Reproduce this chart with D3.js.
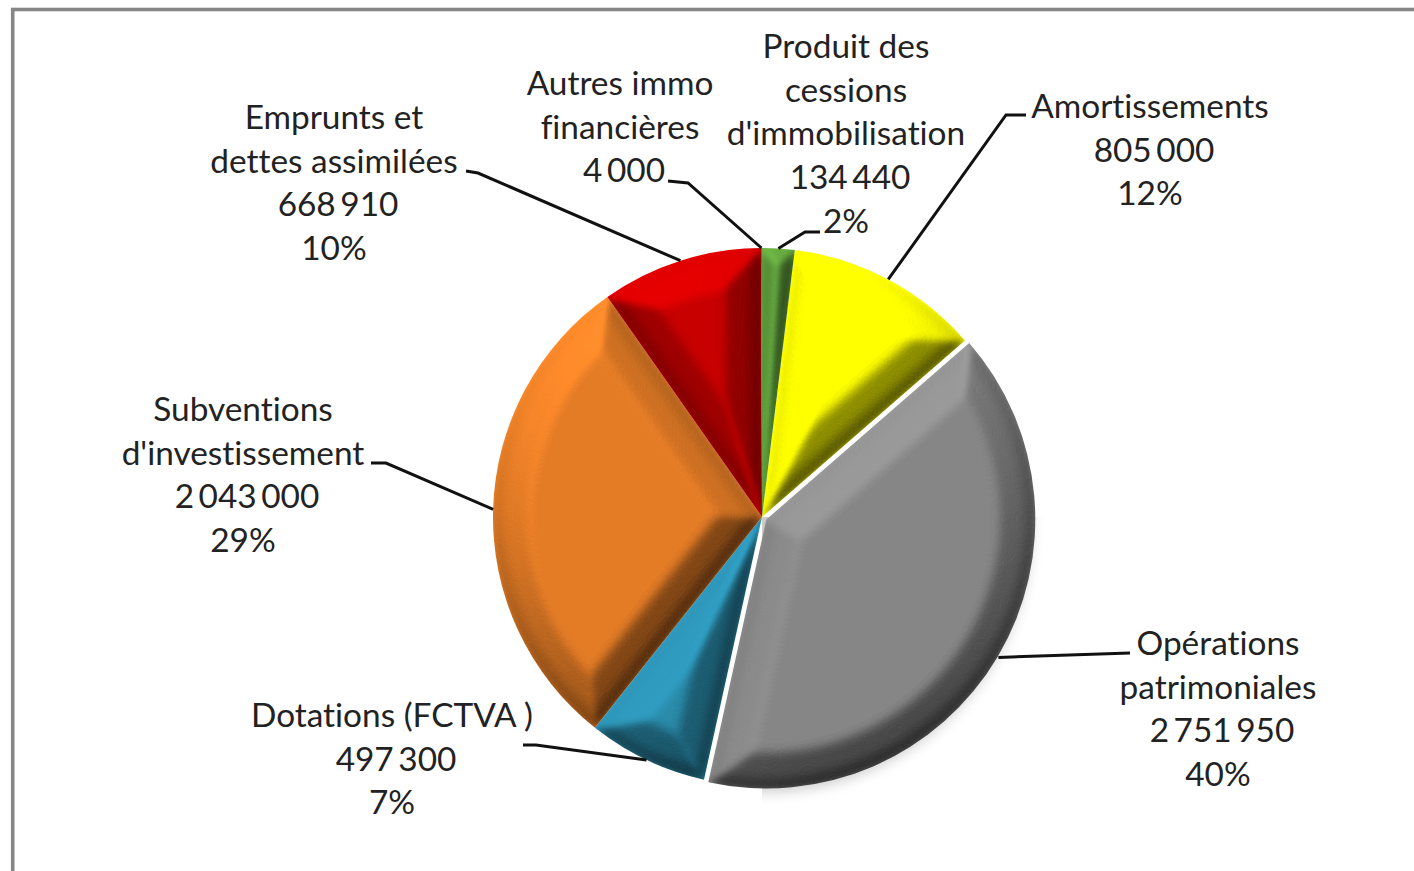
<!DOCTYPE html>
<html>
<head>
<meta charset="utf-8">
<script src="https://cdn.jsdelivr.net/npm/d3@7"></script>
<style>
  html, body { margin: 0; padding: 0; background: #fff; overflow: hidden; }
  text { font-family: Lato, "Open Sans", sans-serif; font-size: 33.4px; fill: #222; font-variant-ligatures: none; }
</style>
</head>
<body>
<div id="chart"></div>
<script>
// chart data, clockwise from the first slice after the top
const categories = [
  ['Amortissements'],
  ['Opérations', 'patrimoniales'],
  ['Dotations (FCTVA )'],
  ['Subventions', "d'investissement"],
  ['Emprunts et', 'dettes assimilées'],
  ['Autres immo', 'financières'],
  ['Produit des', 'cessions', "d'immobilisation"],
];
const values = [805000, 2751950, 497300, 2043000, 668910, 4000, 134440];
const percents = ['12%', '40%', '7%', '29%', '10%', '', '2%'];
const colors = ['#ffff00', '#868686', '#2a8bab', '#e47c26', '#c80000', '#c0392b', '#5f9e3c'];

// label centre and first baseline, then the bend(s) of each leader line
const labelPos = [
  { x: 1150, y: 118, leader: [[1026, 115], [1006, 115]] },
  { x: 1218, y: 655, leader: [[1130, 653]] },
  { x: 392, y: 727, leader: [[523, 745], [536, 745]] },
  { x: 243, y: 421, leader: [[371, 463], [386, 463]] },
  { x: 334, y: 129, leader: [[466, 171], [478, 173]] },
  { x: 620, y: 95, leader: [[668, 181], [688, 183]] },
  { x: 846, y: 58, leader: [[820, 232], [805, 232]] },
];

const width = 1414;
const height = 871;
const cx = 762;
const cy = 517;
const radius = 269;
const bevel = 42;
const explode = 5;
const lineHeight = 43.7;
const startAngle = (7 * Math.PI) / 180;

const svg = d3
  .select('#chart')
  .append('svg')
  .attr('width', width)
  .attr('height', height);

svg.append('rect').attr('width', width).attr('height', height).attr('fill', '#fff');

// outer frame runs off the right and bottom of the picture
svg
  .append('rect')
  .attr('x', 12.7)
  .attr('y', 9.5)
  .attr('width', 1500)
  .attr('height', 1000)
  .attr('fill', 'none')
  .attr('stroke', '#868686')
  .attr('stroke-width', 3.6);

const defs = svg.append('defs');

const shadow = defs
  .append('filter')
  .attr('id', 'soft')
  .attr('filterUnits', 'userSpaceOnUse')
  .attr('x', 0)
  .attr('y', 0)
  .attr('width', width)
  .attr('height', height);
shadow.append('feGaussianBlur').attr('stdDeviation', 7);

const pie = d3
  .pie()
  .sort(null)
  .startAngle(startAngle)
  .endAngle(startAngle + 2 * Math.PI)
  .value((d) => d);
const arcs = pie(values);
const arc = d3.arc().innerRadius(0).outerRadius(radius);

// slice shrunk by w on all sides, used to stack up the bevel height
function insetSlice(d, w) {
  const half = (d.endAngle - d.startAngle) / 2;
  const mid = (d.startAngle + d.endAngle) / 2;
  const r = radius - w;
  const apex = half < Math.PI / 2 ? w / Math.sin(half) : 0;
  if (w === 0) return arc(d);
  const theta = half - Math.asin(w / r);
  if (apex >= r || theta <= 0) return null;
  const p = d3.path();
  p.moveTo(apex * Math.sin(mid), -apex * Math.cos(mid));
  p.lineTo(r * Math.sin(mid - theta), -r * Math.cos(mid - theta));
  p.arc(0, 0, r, mid - theta - Math.PI / 2, mid + theta - Math.PI / 2);
  p.closePath();
  return p.toString();
}

const layers = d3.range(26).map((k) => k / 26);
// rim falls off smoothly, with a small step further in for the ridge
const ridge = d3.scaleLinear().domain([0.55, 0.9]).range([0, 1]).clamp(true);
const profile = (t) => 0.04 + 0.96 * (0.86 * (1 - (1 - t) * (1 - t)) + 0.14 * ridge(t));

const pieG = svg.append('g').attr('transform', `translate(${cx},${cy})`);

// soft shadow under the pie
pieG
  .append('circle')
  .attr('cx', 2)
  .attr('cy', 8)
  .attr('r', radius - 2)
  .attr('fill', '#000')
  .attr('opacity', 0.2)
  .attr('filter', 'url(#soft)');

arcs.forEach((d, i) => {
  const mid = (d.startAngle + d.endAngle) / 2;
  const off = i === 1 ? explode : 0;

  const filter = defs
    .append('filter')
    .attr('id', `bevel${i}`)
    .attr('filterUnits', 'userSpaceOnUse')
    .attr('x', -cx)
    .attr('y', -cy)
    .attr('width', width)
    .attr('height', height)
    .attr('color-interpolation-filters', 'sRGB');
  filter
    .append('feGaussianBlur')
    .attr('in', 'SourceAlpha')
    .attr('stdDeviation', 4)
    .attr('result', 'h');
  filter
    .append('feDiffuseLighting')
    .attr('in', 'h')
    .attr('surfaceScale', 14)
    .attr('diffuseConstant', 1)
    .attr('lighting-color', '#fff')
    .attr('result', 'light')
    .append('feDistantLight')
    .attr('azimuth', 245)
    .attr('elevation', 60);
  filter
    .append('feFlood')
    .attr('flood-color', colors[i])
    .attr('result', 'col');
  filter
    .append('feComposite')
    .attr('in', 'col')
    .attr('in2', 'light')
    .attr('operator', 'arithmetic')
    .attr('k1', 1.155)
    .attr('k2', 0)
    .attr('k3', 0)
    .attr('k4', 0);

  defs
    .append('clipPath')
    .attr('id', `clip${i}`)
    .append('path')
    .attr('d', arc(d));

  const g = pieG
    .append('g')
    .attr(
      'transform',
      `translate(${off * Math.sin(mid)},${-off * Math.cos(mid)})`,
    )
    .attr('clip-path', `url(#clip${i})`);

  const stack = g.append('g').attr('filter', `url(#bevel${i})`);
  let prev = 0;
  layers.forEach((t) => {
    const path = insetSlice(d, t * bevel);
    const h = profile(t + 1 / layers.length);
    const a = Math.min(1, (h - prev) / (1 - prev));
    prev = h;
    if (path) stack.append('path').attr('d', path).attr('fill', '#000').attr('fill-opacity', a);
  });
});

// leader lines end on the rim at the middle of each slice
const line = d3.line();
const leaderG = svg.append('g');
arcs.forEach((d, i) => {
  const mid = (d.startAngle + d.endAngle) / 2;
  const r = i === 1 ? radius + explode + 1 : radius;
  const end = [cx + r * Math.sin(mid), cy - r * Math.cos(mid)];
  leaderG
    .append('path')
    .attr('d', line([...labelPos[i].leader, end]))
    .attr('fill', 'none')
    .attr('stroke', '#111')
    .attr('stroke-width', 3);
});

// labels: name lines, value, percent
const fmt = d3.formatLocale({ thousands: ' ', grouping: [3], decimal: ',', currency: ['', ''] }).format(',');
arcs.forEach((d, i) => {
  const rows = [...categories[i], fmt(values[i])];
  if (percents[i]) rows.push(percents[i]);
  const t = svg
    .append('g')
    .attr('transform', `translate(${labelPos[i].x},${labelPos[i].y})`);
  rows.forEach((row, k) => {
    const isValue = k === categories[i].length;
    t.append('text')
      .attr('x', isValue ? 4 : 0)
      .attr('y', k * lineHeight)
      .attr('text-anchor', 'middle')
      .attr('word-spacing', isValue ? '-4px' : null)
      .text(row);
  });
});
</script>
</body>
</html>
